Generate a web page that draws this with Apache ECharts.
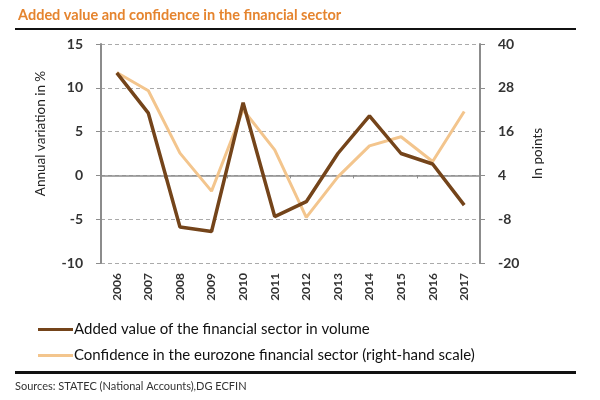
<!DOCTYPE html>
<html>
<head>
<meta charset="utf-8">
<script src="https://cdn.jsdelivr.net/npm/echarts@6/dist/echarts.min.js"></script>
<style>
html,body{margin:0;padding:0;background:#fff;}
#chart{width:600px;height:400px;}
</style>
</head>
<body>
<div id="chart"></div>
<script>
// 数据
const years = ['2006','2007','2008','2009','2010','2011','2012','2013','2014','2015','2016','2017'];
const addedValue = [11.7, 7.1, -5.9, -6.4, 8.3, -4.7, -3.0, 2.5, 6.8, 2.5, 1.3, -3.4];
const confidence = [32.2, 27.2, 10.1, -0.3, 22.0, 11.0, -7.5, 3.6, 12.1, 14.6, 7.8, 21.5];

const brown = '#74441a';
const beige = '#f3c58d';
const axisGray = '#8c8c8c';
const font = 'Lato';

const chart = echarts.init(document.getElementById('chart'));
const option = {
    animation: false,
    textStyle: {fontFamily: font},
    title: {
        text: 'Added value and confidence in the financial sector',
        left: 13, top: 3,
        textStyle: {color: '#e5842e', fontSize: 14.5, fontWeight: 'bold', fontFamily: font}
    },
    grid: {left: 101, right: 120, top: 44, bottom: 137},
    legend: {
        orient: 'vertical',
        left: 33, top: 317,
        icon: 'rect',
        itemWidth: 35, itemHeight: 3, itemGap: 11,
        textStyle: {fontSize: 15, color: '#111', fontFamily: font, padding: [0, 0, 0, -4]},
        data: ['Added value of the financial sector in volume', 'Confidence in the eurozone financial sector (right-hand scale)']
    },
    xAxis: [{
        type: 'category',
        data: years,
        position: 'bottom',
        axisLine: {show: false, onZero: false},
        axisTick: {show: false},
        axisLabel: {rotate: 90, fontSize: 12, fontWeight: 'bold', color: '#333', margin: 10}
    }, {
        type: 'category',
        data: years,
        position: 'bottom',
        axisLine: {show: true, onZero: true, onZeroAxisIndex: 0, lineStyle: {color: axisGray, width: 1.5}},
        axisTick: {show: true, length: 3, lineStyle: {color: axisGray}},
        axisLabel: {show: false}
    }],
    yAxis: [{
        type: 'value',
        min: -10, max: 15, interval: 5,
        name: 'Annual variation in %',
        nameLocation: 'middle', nameGap: 53,
        nameTextStyle: {fontSize: 13.5, color: '#222', fontFamily: font, padding: [0, 0, 0, 40]},
        axisLine: {show: true, lineStyle: {color: axisGray, width: 2}},
        axisTick: {show: true, length: 5, lineStyle: {color: axisGray}},
        axisLabel: {fontSize: 14, fontWeight: 'bold', color: '#333', margin: 18},
        splitLine: {show: true, lineStyle: {color: '#aaa', type: [4, 3]}}
    }, {
        type: 'value',
        min: -20, max: 40, interval: 12,
        name: 'In points',
        nameLocation: 'middle', nameGap: 42,
        nameTextStyle: {fontSize: 13.5, color: '#222', fontFamily: font},
        axisLine: {show: true, lineStyle: {color: axisGray, width: 2}},
        axisTick: {show: true, length: 5, lineStyle: {color: axisGray}},
        axisLabel: {fontSize: 14, fontWeight: 'bold', color: '#333', margin: 18},
        splitLine: {show: false}
    }],
    series: [{
        name: 'Added value of the financial sector in volume',
        type: 'line',
        data: addedValue,
        yAxisIndex: 0,
        symbol: 'none',
        z: 3,
        lineStyle: {color: brown, width: 3.5},
        itemStyle: {color: brown}
    }, {
        name: 'Confidence in the eurozone financial sector (right-hand scale)',
        type: 'line',
        data: confidence,
        yAxisIndex: 1,
        symbol: 'none',
        z: 2,
        lineStyle: {color: beige, width: 3},
        itemStyle: {color: beige}
    }],
    graphic: [{
        type: 'rect',
        shape: {x: 15, y: 28, width: 561, height: 2},
        style: {fill: '#111'}
    }, {
        type: 'rect',
        shape: {x: 15, y: 371, width: 561, height: 3},
        style: {fill: '#111'}
    }, {
        type: 'text',
        left: 15, top: 381,
        style: {text: 'Sources: STATEC (National Accounts),DG ECFIN', fontSize: 11, fill: '#333', fontFamily: font}
    }]
};
chart.setOption(option);
</script>
</body>
</html>
